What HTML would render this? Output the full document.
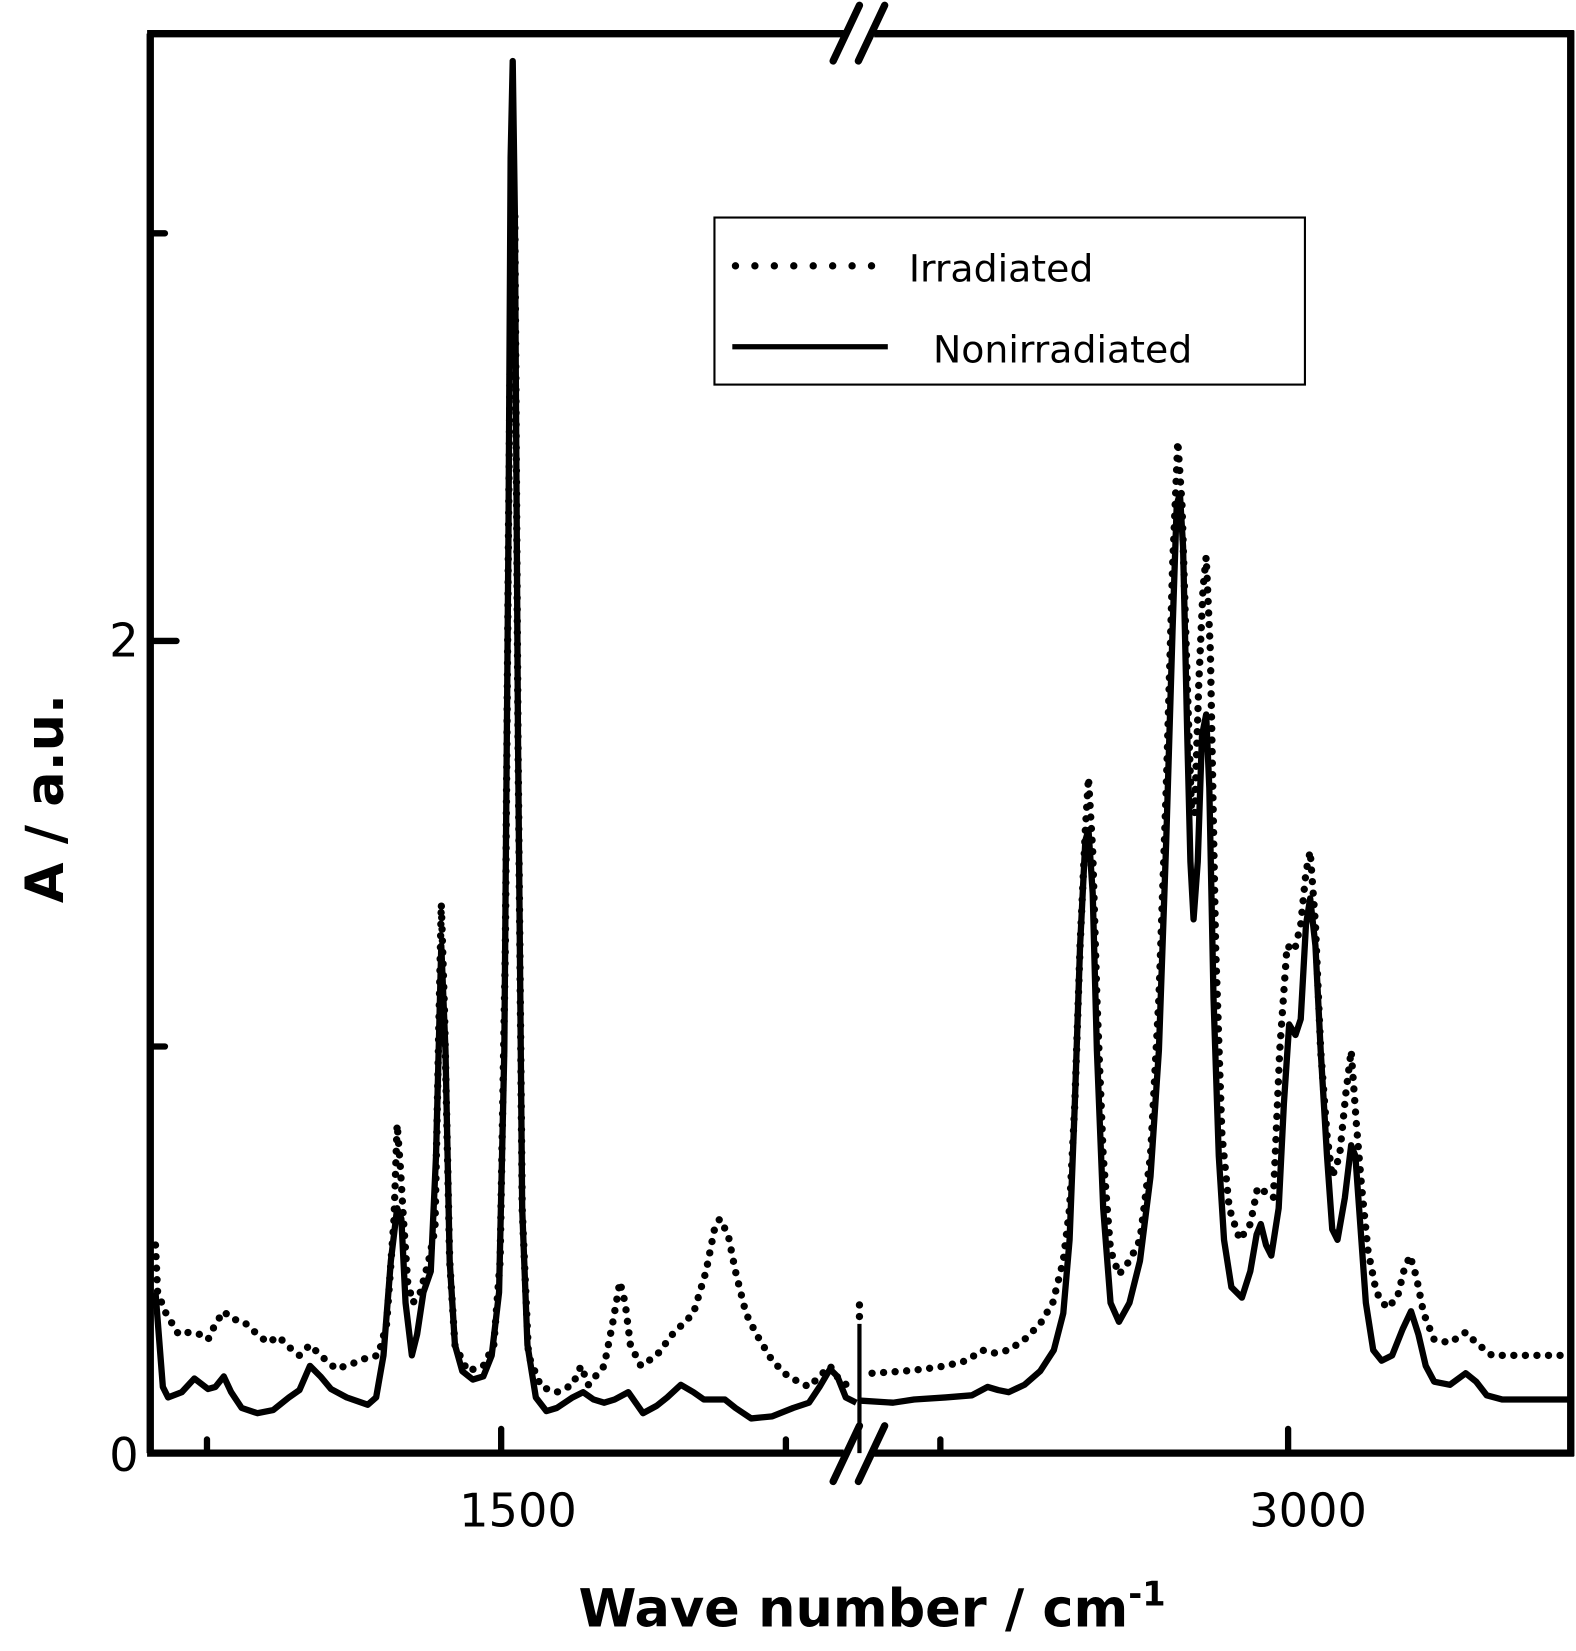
<!DOCTYPE html>
<html><head><meta charset="utf-8"><style>html,body{margin:0;padding:0;background:#fff;}svg{display:block;}</style></head>
<body>
<svg width="1576" height="1651" viewBox="0 0 1500 1571.3" xmlns="http://www.w3.org/2000/svg" font-family="'DejaVu Sans','Liberation Sans',sans-serif">
<rect width="1500" height="1572" fill="#fff"/>
<g stroke="#000" stroke-width="7" fill="none">
<line x1="143" y1="1383" x2="143" y2="32"/>
<line x1="140" y1="32" x2="803" y2="32"/>
<line x1="832" y1="32" x2="1498" y2="32"/>
<line x1="1495" y1="29" x2="1495" y2="1386"/>
<line x1="140" y1="1383" x2="803" y2="1383"/>
<line x1="832" y1="1383" x2="1498" y2="1383"/>
</g>
<rect x="804" y="20" width="27" height="24" fill="#fff"/>
<rect x="804" y="1371" width="27" height="24" fill="#fff"/>
<g stroke="#000" stroke-width="7" stroke-linecap="round">
<line x1="793" y1="58" x2="818" y2="5"/><line x1="817" y1="58" x2="842" y2="5"/>
<line x1="793" y1="1410" x2="818" y2="1357"/><line x1="817" y1="1410" x2="842" y2="1357"/>
</g>
<g stroke="#000" stroke-width="6" stroke-linecap="round">
<line x1="143" y1="222" x2="157" y2="222"/>
<line x1="143" y1="610" x2="168" y2="610"/>
<line x1="143" y1="996" x2="157" y2="996"/>
<line x1="197" y1="1383" x2="197" y2="1370"/>
<line x1="477" y1="1383" x2="477" y2="1360"/>
<line x1="748" y1="1383" x2="748" y2="1370"/>
<line x1="895" y1="1383" x2="895" y2="1370"/>
<line x1="1226" y1="1383" x2="1226" y2="1360"/>
</g>
<g font-size="44" fill="#000">
<text x="118" y="625" text-anchor="middle">2</text>
<text x="118" y="1400" text-anchor="middle">0</text>
<text x="493" y="1453" text-anchor="middle">1500</text>
<text x="1245" y="1453" text-anchor="middle">3000</text>
</g>
<text x="830" y="1548" text-anchor="middle" font-size="50" font-weight="bold">Wave number / cm<tspan dy="-20" font-size="32">-1</tspan></text>
<text transform="translate(60,760) rotate(-90)" text-anchor="middle" font-size="50" font-weight="bold">A / a.u.</text>
<rect x="680" y="207" width="562" height="159" fill="#fff" stroke="#000" stroke-width="2"/>
<line x1="700" y1="253" x2="845" y2="253" stroke="#000" stroke-width="7" stroke-linecap="round" stroke-dasharray="0 18.5"/>
<text x="865" y="268" font-size="36">Irradiated</text>
<line x1="697" y1="330" x2="845" y2="330" stroke="#000" stroke-width="5"/>
<text x="888" y="345" font-size="36">Nonirradiated</text>
<g fill="none" stroke="#000" stroke-width="6" stroke-linejoin="round">
<polyline points="148,1230 155,1320 160,1330 173,1325 185,1312 198,1322 205,1320 213,1310 220,1325 230,1340 245,1345 260,1342 275,1330 285,1323 295,1300 305,1310 315,1322 330,1330 350,1337 358,1330 365,1290 372,1200 378,1150 382,1160 386,1240 392,1290 397,1270 403,1230 410,1210 415,1100 420,900 424,1000 428,1200 433,1280 440,1305 450,1313 460,1310 468,1290 475,1230 480,1000 484,500 486,150 488,58 490,200 493,700 497,1150 502,1280 510,1330 520,1343 530,1340 545,1330 555,1325 565,1332 575,1335 585,1332 598,1325 605,1335 612,1345 625,1338 635,1330 648,1318 660,1325 670,1332 690,1332 700,1340 715,1350 735,1348 755,1340 770,1335 780,1320 790,1303 797,1310 805,1330 815,1335"/>
<line x1="818" y1="1260" x2="818" y2="1383" stroke-width="4"/>
<polyline points="818,1333 850,1335 870,1332 900,1330 925,1328 940,1320 950,1323 960,1325 975,1318 990,1305 1003,1285 1012,1250 1018,1180 1023,1050 1028,900 1033,800 1036,790 1040,850 1044,1000 1050,1150 1057,1240 1065,1258 1075,1240 1085,1200 1095,1120 1103,1000 1110,800 1116,600 1120,480 1123,470 1126,520 1130,700 1133,820 1136,875 1140,820 1144,700 1148,680 1151,750 1155,950 1160,1100 1165,1180 1172,1225 1182,1235 1190,1210 1196,1175 1200,1165 1205,1185 1210,1195 1217,1150 1222,1050 1227,975 1233,985 1238,970 1243,880 1247,855 1252,900 1257,1000 1263,1100 1268,1170 1273,1180 1280,1140 1286,1090 1290,1100 1295,1170 1300,1240 1307,1285 1315,1295 1325,1290 1335,1265 1343,1248 1350,1270 1357,1300 1365,1315 1380,1318 1395,1307 1405,1315 1415,1328 1430,1332 1492,1332"/>
</g>
<g fill="none" stroke="#000" stroke-width="7" stroke-linecap="round" stroke-linejoin="round" stroke-dasharray="0 11">
<polyline points="148,1185 150,1230 158,1250 170,1270 180,1268 190,1270 198,1275 205,1260 213,1248 220,1255 232,1258 245,1270 255,1278 265,1272 275,1282 285,1290 295,1280 305,1290 320,1303 335,1298 350,1292 360,1290 368,1260 375,1160 378,1070 381,1110 384,1160 388,1220 393,1240 400,1230 408,1200 414,1170 418,960 420,860 423,960 428,1200 433,1280 445,1305 460,1300 470,1280 476,1200 481,900 484,500 487,200 490,200 493,700 497,1150 503,1290 515,1320 530,1325 545,1318 553,1300 560,1318 575,1300 583,1260 590,1220 595,1240 600,1280 610,1300 625,1290 640,1270 660,1250 672,1210 680,1170 685,1160 693,1175 700,1210 710,1250 720,1270 735,1295 750,1310 770,1320 780,1310 790,1300 800,1315 810,1320"/>
<polyline points="830,1307 860,1305 880,1303 900,1300 920,1295 935,1285 945,1288 960,1285 975,1275 990,1260 1002,1240 1012,1200 1018,1150 1023,1050 1028,900 1033,790 1036,740 1040,810 1044,950 1050,1100 1057,1190 1065,1213 1075,1200 1085,1180 1095,1100 1103,950 1110,750 1116,540 1121,420 1125,480 1130,650 1134,770 1137,775 1141,650 1145,560 1148,530 1152,620 1157,900 1163,1080 1170,1150 1180,1180 1190,1165 1197,1130 1205,1135 1212,1140 1218,1000 1225,900 1232,905 1238,880 1243,830 1247,810 1252,880 1257,1000 1263,1080 1268,1120 1275,1100 1281,1040 1286,1000 1291,1070 1296,1130 1302,1190 1310,1230 1320,1245 1330,1235 1336,1210 1342,1195 1348,1215 1355,1250 1365,1275 1380,1278 1395,1268 1405,1278 1420,1290 1492,1290"/>
<line x1="818" y1="1242" x2="818" y2="1258"/>
</g>
</svg>
</body></html>
